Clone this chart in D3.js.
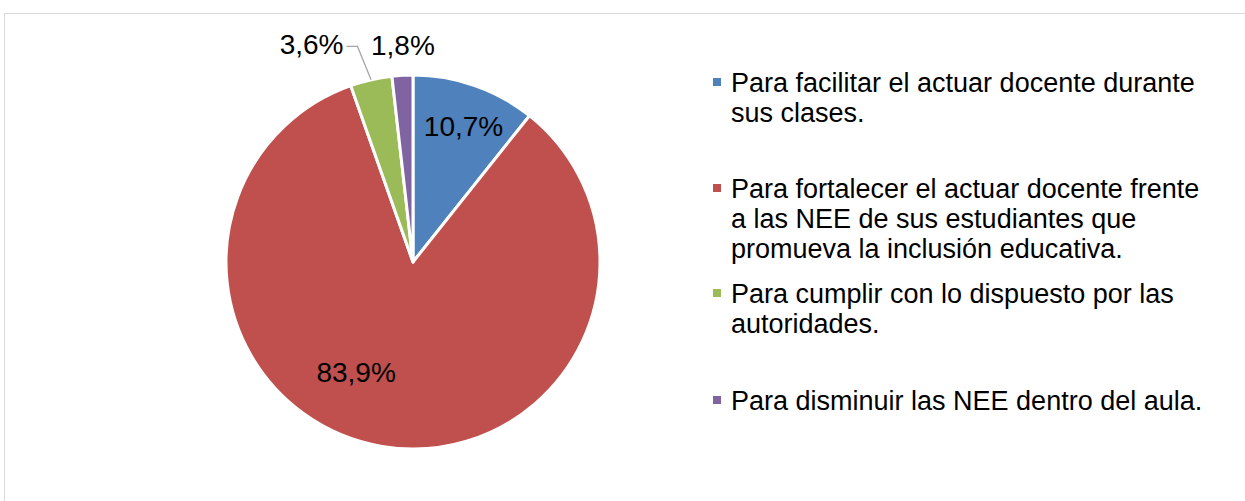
<!DOCTYPE html>
<html>
  <head>
    <meta charset="utf-8">
    <title>Pie chart</title>
    <script src="https://cdnjs.cloudflare.com/ajax/libs/d3/7.8.5/d3.min.js"></script>
    <style>
      body { margin: 0; background: #fff; }
      text { font-family: "Liberation Sans", Arial, sans-serif; fill: #000; }
    </style>
  </head>
  <body>
    <script>

      var categories = [
        "Para facilitar el actuar docente durante sus clases.",
        "Para fortalecer el actuar docente frente a las NEE de sus estudiantes que promueva la inclusión educativa.",
        "Para cumplir con lo dispuesto por las autoridades.",
        "Para disminuir las NEE dentro del aula."
      ];
      var legendLines = [
        ["Para facilitar el actuar docente durante", "sus clases."],
        ["Para fortalecer el actuar docente frente", "a las NEE de sus estudiantes que", "promueva la inclusión educativa."],
        ["Para cumplir con lo dispuesto por las", "autoridades."],
        ["Para disminuir las NEE dentro del aula."]
      ];
      var values = [10.7, 83.9, 3.6, 1.8];
      var colors = ["#4F81BD", "#C0504D", "#9BBB59", "#8064A2"];

      var width = 1245, height = 501;
      var cx = 413, cy = 262, radius = 187;

      var locale = d3.formatLocale({ decimal: ",", thousands: ".", grouping: [3], currency: ["", ""] });
      var fmt = locale.format(".1f");

      var svg = d3.select("body").append("svg")
        .attr("width", width)
        .attr("height", height);

      // chart frame
      svg.append("rect")
        .attr("x", 4.5).attr("y", 13.5)
        .attr("width", width + 10).attr("height", height + 10)
        .attr("fill", "none")
        .attr("stroke", "#D9D9D9")
        .attr("stroke-width", 1);

      var g = svg.append("g")
        .attr("transform", "translate(" + cx + "," + cy + ")");

      var pie = d3.pie().sort(null).value(function (d) { return d; });
      var arcs = pie(values);

      var arc = d3.arc().innerRadius(0).outerRadius(radius);

      g.selectAll("path.slice").data(arcs).enter().append("path")
        .attr("class", "slice")
        .attr("d", arc)
        .attr("fill", function (d, i) { return colors[i]; })
        .attr("stroke", "#fff")
        .attr("stroke-width", 3)
        .attr("stroke-linejoin", "round");

      // label placement: angle shift (rad) and radius per slice, like excel's best fit
      var labelPlace = [
        { dAngle: 0.02, r: 145 },
        { dAngle: 0.31, r: 124 },
        { dAngle: -0.21, r: 240 },
        { dAngle: 0.01, r: 217 }
      ];

      function polar(a, r) { return [Math.sin(a) * r, -Math.cos(a) * r]; }

      arcs.forEach(function (d, i) {
        var mid = (d.startAngle + d.endAngle) / 2;
        var p = labelPlace[i];
        var pos = polar(mid + p.dAngle, p.r);
        var t = g.append("text")
          .attr("x", pos[0])
          .attr("y", pos[1])
          .attr("dy", "0.35em")
          .attr("text-anchor", "middle")
          .style("font-size", "28px")
          .text(fmt(d.value) + "%");

        // leader line for the green slice
        if (i === 2) {
          var bb = t.node().getBBox();
          var edge = polar(mid, radius);
          var x0 = bb.x + bb.width + 3, y0 = pos[1] + 2;
          g.append("polyline")
            .attr("points", [[x0, y0], [x0 + 11, y0], [edge[0], edge[1]]].map(function (q) { return q.join(","); }).join(" "))
            .attr("fill", "none")
            .attr("stroke", "#A6A6A6")
            .attr("stroke-width", 1.3);
        }
      });

      // legend
      var legendX = 713, textX = 731, lineH = 30;
      var firstBase = [92, 198, 303, 410];
      var legend = svg.append("g");
      legendLines.forEach(function (lines, i) {
        var item = legend.append("g");
        item.append("rect")
          .attr("x", legendX).attr("y", firstBase[i] - 14)
          .attr("width", 8).attr("height", 8)
          .attr("fill", colors[i]);
        var t = item.append("text")
          .attr("x", textX).attr("y", firstBase[i])
          .style("font-size", "27px");
        t.append("title").text(categories[i]);
        lines.forEach(function (line, j) {
          t.append("tspan")
            .attr("x", textX)
            .attr("y", firstBase[i] + j * lineH)
            .text(line);
        });
      });

    </script>
  </body>
</html>
